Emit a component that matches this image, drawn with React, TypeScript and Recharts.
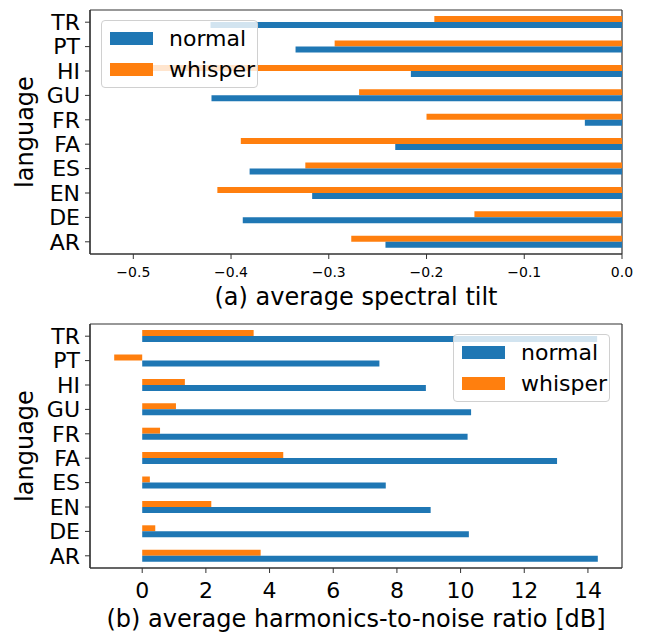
import React from "react";
import {
  BarChart,
  Bar,
  XAxis,
  YAxis,
  Legend,
  CartesianGrid,
} from "recharts";

const languages = ["TR", "PT", "HI", "GU", "FR", "FA", "ES", "EN", "DE", "AR"];

const tiltNormal = [-0.421, -0.334, -0.216, -0.42, -0.038, -0.232, -0.381, -0.317, -0.388, -0.242];
const tiltWhisper = [-0.192, -0.294, -0.518, -0.269, -0.2, -0.39, -0.324, -0.414, -0.151, -0.277];

const hnrNormal = [14.29, 7.45, 8.91, 10.33, 10.22, 13.03, 7.65, 9.06, 10.26, 14.31];
const hnrWhisper = [3.5, -0.88, 1.34, 1.06, 0.56, 4.43, 0.24, 2.17, 0.41, 3.72];

const tiltTicks = [-0.5, -0.4, -0.3, -0.2, -0.1, 0];
const hnrTicks = [0, 2, 4, 6, 8, 10, 12, 14];

const BLUE = "#1f77b4";
const ORANGE = "#ff7f0e";
const FONT = "'DejaVu Sans', sans-serif";
const SPINE = "#333";

const series = [
  { key: "normal", name: "normal", color: BLUE },
  { key: "whisper", name: "whisper", color: ORANGE },
];

const tiltData = languages.map((lang, i) => ({
  lang,
  normal: tiltNormal[i],
  whisper: tiltWhisper[i],
}));

const hnrData = languages.map((lang, i) => ({
  lang,
  normal: hnrNormal[i],
  whisper: hnrWhisper[i],
}));

const fmtTilt = (v: number) => v.toFixed(1).replace("-", "\u2212");

// grid lines only on the plot edges -> matplotlib-style box
const edgeX = (props: any) => {
  const o = props.offset || {};
  return [o.left, o.left + o.width];
};
const edgeY = (props: any) => {
  const o = props.offset || {};
  return [o.top, o.top + o.height];
};

const LegendBox = () => (
  <div
    style={{
      boxSizing: "border-box",
      width: 157,
      height: 68,
      border: "1px solid #d0d0d0",
      borderRadius: 4,
      background: "rgba(255,255,255,0.8)",
      paddingLeft: 8,
      paddingTop: 2,
      fontFamily: FONT,
      fontSize: 22,
      color: "#000",
    }}
  >
    {series.map((s) => (
      <div key={s.key} style={{ display: "flex", alignItems: "center", height: 31 }}>
        <span style={{ display: "inline-block", width: 43, height: 13, background: s.color, marginRight: 16 }} />
        <span>{s.name}</span>
      </div>
    ))}
  </div>
);

const yLabel = (props: any) => {
  const vb = props.viewBox || {};
  const cx = (vb.x || 0) + 33;
  const cy = vb.y + vb.height / 2;
  return (
    <text
      x={cx}
      y={cy}
      transform={`rotate(-90 ${cx} ${cy})`}
      textAnchor="middle"
      fontSize={24}
      fontFamily={FONT}
      fill="#000"
    >
      language
    </text>
  );
};

const xLabel = (text: string, drop: number) => (props: any) => {
  const vb = props.viewBox || {};
  return (
    <text
      x={vb.x + vb.width / 2}
      y={vb.y + drop}
      textAnchor="middle"
      fontSize={24}
      fontFamily={FONT}
      fill="#000"
    >
      {text}
    </text>
  );
};

type PanelProps = {
  data: any[];
  domain: [number, number];
  ticks: number[];
  fmt?: (v: number) => string;
  tickFont: number;
  tickMargin: number;
  xHeight: number;
  margin: { top: number; right: number; bottom: number; left: number };
  title: string;
  titleDrop: number;
  legendPos: { left: number; top: number };
};

const spine = { stroke: SPINE, strokeWidth: 1.2 };

const Panel = (p: PanelProps) => (
  <BarChart
    width={648}
    height={317}
    data={p.data}
    layout="vertical"
    margin={p.margin}
    barCategoryGap="25%"
    barGap={0}
  >
    <CartesianGrid
      stroke={SPINE}
      strokeWidth={1.2}
      verticalCoordinatesGenerator={edgeX}
      horizontalCoordinatesGenerator={edgeY}
    />
    <XAxis
      type="number"
      domain={p.domain}
      ticks={p.ticks}
      tickFormatter={p.fmt}
      allowDataOverflow
      axisLine={spine}
      tickLine={{ stroke: SPINE }}
      tickSize={5}
      tickMargin={p.tickMargin}
      height={p.xHeight}
      tick={{ fontSize: p.tickFont, fontFamily: FONT, fill: "#000" }}
      label={{ content: xLabel(p.title, p.titleDrop) }}
    />
    <YAxis
      type="category"
      dataKey="lang"
      width={90}
      axisLine={spine}
      tickLine={{ stroke: SPINE }}
      tickSize={5}
      tickMargin={5}
      interval={0}
      tick={{ fontSize: 22, fontFamily: FONT, fill: "#000" }}
      label={{ content: yLabel }}
    />
    <Bar dataKey="whisper" name="whisper" fill={ORANGE} isAnimationActive={false} />
    <Bar dataKey="normal" name="normal" fill={BLUE} isAnimationActive={false} />
    <Legend
      layout="horizontal"
      verticalAlign="middle"
      align="center"
      content={() => <LegendBox />}
      wrapperStyle={{ left: p.legendPos.left, top: p.legendPos.top, width: 157, height: 68 }}
    />
  </BarChart>
);

export default function App() {
  return (
    <div style={{ position: "absolute", left: 0, top: 0, width: 648, height: 634, background: "#fff" }}>
      <Panel
        data={tiltData}
        domain={[-0.5443, 0]}
        ticks={tiltTicks}
        fmt={fmtTilt}
        tickFont={14}
        tickMargin={8}
        xHeight={36}
        margin={{ top: 10, right: 26, bottom: 27, left: 0 }}
        title="(a) average spectral tilt"
        titleDrop={51}
        legendPos={{ left: 101, top: 20 }}
      />
      <Panel
        data={hnrData}
        domain={[-1.64, 15.07]}
        ticks={hnrTicks}
        tickFont={22}
        tickMargin={9}
        xHeight={44}
        margin={{ top: 7, right: 26, bottom: 22, left: 0 }}
        title="(b) average harmonics-to-noise ratio [dB]"
        titleDrop={59}
        legendPos={{ left: 453, top: 17 }}
      />
    </div>
  );
}
